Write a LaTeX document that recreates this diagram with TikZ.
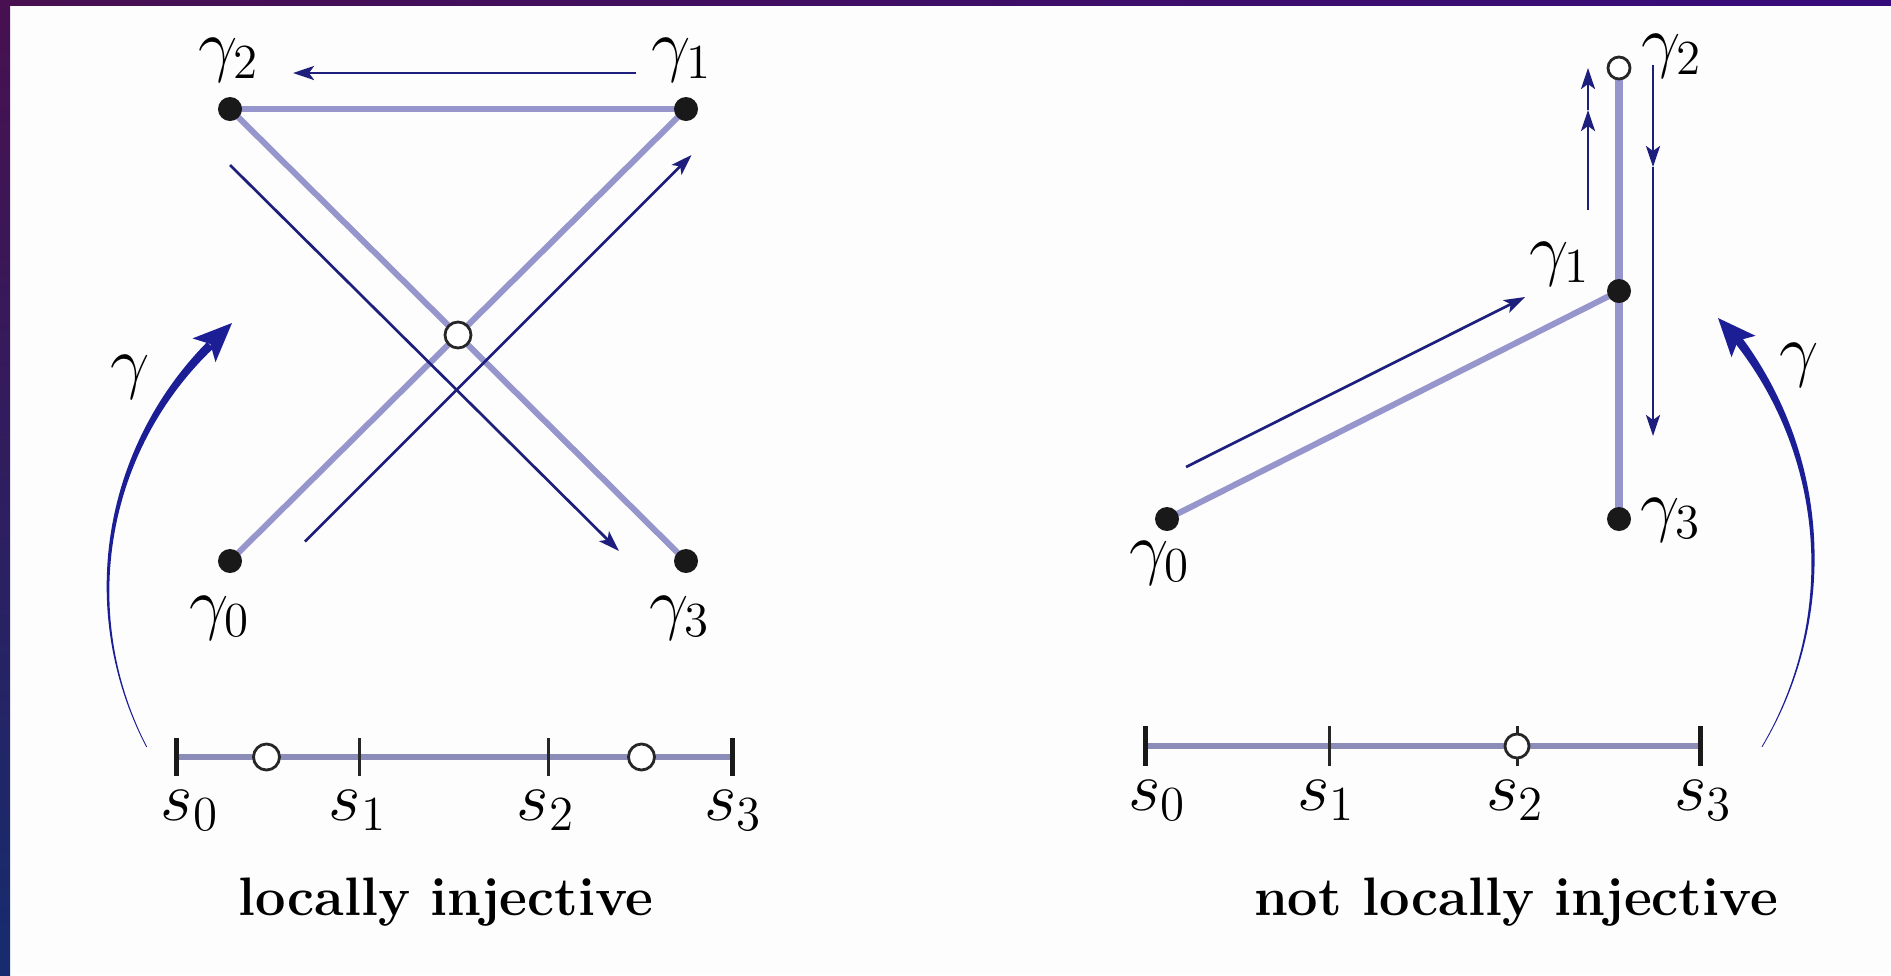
\RequirePackage{fix-cm}
\documentclass[tikz,border=0pt]{standalone}
\usetikzlibrary{arrows.meta}
\pgfdeclarelayer{bg}
\pgfsetlayers{bg,main}
\definecolor{light}{RGB}{150,150,205}
\definecolor{axisc}{RGB}{140,140,185}
\definecolor{darkarr}{RGB}{30,30,125}
\definecolor{garc}{RGB}{28,30,150}
\definecolor{dotc}{RGB}{25,25,25}
\definecolor{purp}{RGB}{72,16,80}
\definecolor{navyb}{RGB}{22,44,110}
\definecolor{paper}{RGB}{253,253,253}
\begin{document}
\begin{tikzpicture}[x=0.01cm,y=-0.01cm,
  declare function={hwL(\a)=0.4+1.5*((\a-152.5)/73)+2.5*((\a-152.5)/73)^2;
                    hwR(\a)=0.4+1.5*((30.7-\a)/68.1)+2.5*((30.7-\a)/68.1)^2;},
  vdot/.style={circle,fill=dotc,inner sep=0pt,minimum size=0.24cm},
  hole/.style={circle,draw=black!85,line width=0.028cm,fill=white,inner sep=0pt,minimum size=0.26cm},
  lab/.style={inner sep=0pt,anchor=base,font=\fontsize{19.9}{24}\selectfont},
  captext/.style={inner sep=0pt,anchor=base,font=\fontsize{15.4}{18}\selectfont\bfseries},
  lightline/.style={draw=light,line width=0.06cm},
  axisline/.style={draw=axisc,line width=0.055cm},
  endtick/.style={draw=black!90,line width=0.05cm},
  midtick/.style={draw=black!85,line width=0.03cm},
  darrow/.style={draw=darkarr,line width=0.027cm,-{Stealth[length=0.21cm,width=0.14cm,inset=0.05cm]}},
]
\useasboundingbox (0,0) rectangle (1891,975);
% frame (on background layer)
\begin{pgfonlayer}{bg}
\fill[paper] (0,0) rectangle (1891,975);
\shade[top color=purp,bottom color=navyb] (0,0) rectangle (10,975);
\shade[left color=purp,right color=purp!75!blue] (0,0) rectangle (1891,5);
\end{pgfonlayer}

% ---------- left diagram ----------
\node[vdot] (L0) at (230,561) {};
\node[vdot] (L1) at (686,109) {};
\node[vdot] (L2) at (230,109) {};
\node[vdot] (L3) at (686,561) {};
\node[hole] (Lx) at (458,335) {};
\begin{pgfonlayer}{bg}
\draw[lightline] (L0.center) -- (L1.center);
\draw[lightline] (L2.center) -- (L3.center);
\draw[lightline] (L2.center) -- (L1.center);
\end{pgfonlayer}
\coordinate (a1s) at (636,73);   \coordinate (a1e) at (293,73);
\coordinate (a2s) at (230,165);  \coordinate (a2e) at (619,551);
\coordinate (a3s) at (305,541.5);\coordinate (a3e) at (691.5,155);
\draw[darrow] (a1s) -- (a1e);
\draw[darrow] (a2s) -- (a2e);
\draw[darrow] (a3s) -- (a3e);
\node[lab] (tL2) at (229,68) {$\gamma_2$};
\node[lab] (tL1) at (682,68) {$\gamma_1$};
\node[lab] (tL0) at (220,626) {$\gamma_0$};
\node[lab] (tL3) at (680,626) {$\gamma_3$};

% left gamma arc
\fill[garc] plot[domain=152.5:225.5,samples=60]
   ({450+(342+hwL(\x))*cos(\x)},{589+(342+hwL(\x))*sin(\x)})
   -- plot[domain=225.5:152.5,samples=60]
   ({450+(342-hwL(\x))*cos(\x)},{589+(342-hwL(\x))*sin(\x)}) -- cycle;
\fill[garc] (232,323) -- (192.5,338.4) -- (210.4,344) -- (215.5,362.2) -- cycle;
\node[lab] (gL) at (130,385) {$\gamma$};

% left axis
\coordinate (Ls0) at (176,757);
\coordinate (Ls1) at (359,757);
\coordinate (Ls2) at (548,757);
\coordinate (Ls3) at (732,757);
\draw[axisline] (Ls0) -- (Ls3);
\draw[endtick] (Ls0) ++(0,-19) -- ++(0,38);
\draw[midtick] (Ls1) ++(0,-19) -- ++(0,38);
\draw[midtick] (Ls2) ++(0,-19) -- ++(0,38);
\draw[endtick] (Ls3) ++(0,-19) -- ++(0,38);
\node[hole] (Lh1) at (266.5,757) {};
\node[hole] (Lh2) at (641.5,757) {};
\node[lab] (sL0) at (190,820) {$s_0$};
\node[lab] (sL1) at (358,820) {$s_1$};
\node[lab] (sL2) at (546,820) {$s_2$};
\node[lab] (sL3) at (733,820) {$s_3$};
\node[captext] (capL) at (446,915) {locally injective};

% ---------- right diagram ----------
\node[vdot] (R0) at (1167,519) {};
\node[vdot] (R1) at (1619,291) {};
\node[vdot] (R3) at (1619,519) {};
\node[hole,minimum size=0.22cm] (R2) at (1619,68) {};
\begin{pgfonlayer}{bg}
\draw[lightline] (R0.center) -- (R1.center);
\draw[lightline,line width=0.085cm] (R2.center) -- (R3.center);
\end{pgfonlayer}
\coordinate (b1s) at (1186,467);  \coordinate (b1e) at (1525,297);
\coordinate (u0) at (1588,210);   \coordinate (um) at (1588,110); \coordinate (u1) at (1588,68);
\coordinate (d0) at (1653,65);    \coordinate (dm) at (1653,167); \coordinate (d1) at (1653,436);
\draw[darrow] (b1s) -- (b1e);
\draw[darrow] (u0) -- (um);
\draw[darrow] (um) -- (u1);
\draw[darrow] (d0) -- (dm);
\draw[darrow] (dm) -- (d1);
\node[lab] (tR2) at (1672,64) {$\gamma_2$};
\node[lab] (tR1) at (1560,272) {$\gamma_1$};
\node[lab] (tR3) at (1671,528) {$\gamma_3$};
\node[lab] (tR0) at (1160,571) {$\gamma_0$};

% right gamma arc
\fill[garc] plot[domain=30.7:-37.4,samples=60]
   ({1449+(364+hwR(\x))*cos(\x)},{561+(364+hwR(\x))*sin(\x)})
   -- plot[domain=-37.4:30.7,samples=60]
   ({1449+(364-hwR(\x))*cos(\x)},{561+(364-hwR(\x))*sin(\x)}) -- cycle;
\fill[garc] (1718,318) -- (1755.5,335.8) -- (1738,340.5) -- (1731.5,357.2) -- cycle;
\node[lab] (gR) at (1799,373) {$\gamma$};

% right axis
\coordinate (Rs0) at (1145,746);
\coordinate (Rs1) at (1329,746);
\coordinate (Rs2) at (1517,746);
\coordinate (Rs3) at (1700,746);
\draw[axisline,line width=0.065cm] (Rs0) -- (Rs3);
\draw[endtick] (Rs0) ++(0,-20) -- ++(0,40);
\draw[midtick] (Rs1) ++(0,-20) -- ++(0,40);
\draw[midtick] (Rs2) ++(0,-20) -- ++(0,40);
\draw[endtick] (Rs3) ++(0,-20) -- ++(0,40);
\node[hole,minimum size=0.24cm] (Rh) at (1517,746) {};
\node[lab] (sR0) at (1157,810) {$s_0$};
\node[lab] (sR1) at (1326,810) {$s_1$};
\node[lab] (sR2) at (1515,810) {$s_2$};
\node[lab] (sR3) at (1703,810) {$s_3$};
\node[captext] (capR) at (1516,915) {not locally injective};
\end{tikzpicture}
\end{document}
